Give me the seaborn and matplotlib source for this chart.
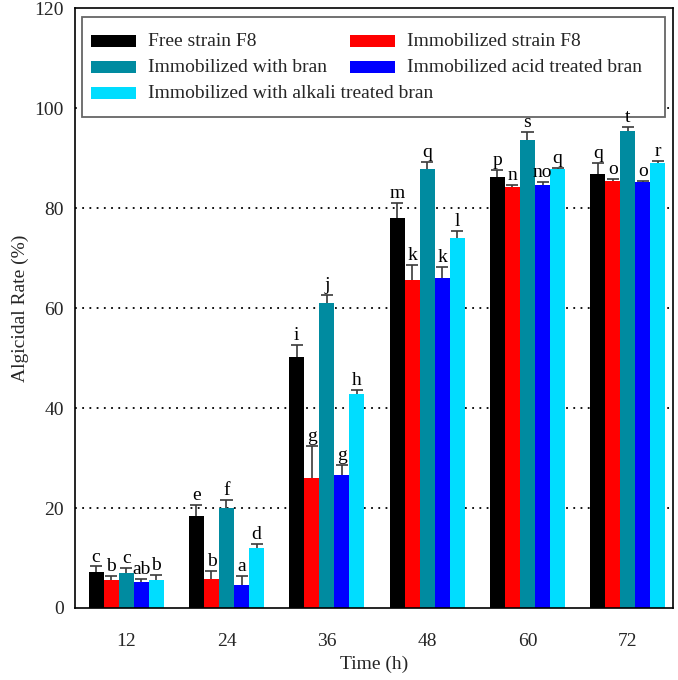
import numpy as np
import pandas as pd
import matplotlib
matplotlib.use("Agg")
import matplotlib.pyplot as plt
import seaborn as sns
from matplotlib.patches import Rectangle

times = ["12", "24", "36", "48", "60", "72"]
series = ["Free strain F8", "Immobilized strain F8", "Immobilized with bran",
          "Immobilized acid treated bran", "Immobilized with alkali treated bran"]
colors = ["#000000", "#FF0000", "#008BA0", "#0000FF", "#00DDFF"]

free_f8 = [7.1, 18.4, 50.3, 78.1, 86.2, 86.9]
immob_f8 = [5.6, 5.7, 26.1, 65.6, 84.2, 85.5]
bran = [6.9, 20.1, 61.1, 87.8, 93.6, 95.4]
acid_bran = [5.1, 4.6, 26.7, 66.1, 84.7, 85.3]
alkali_bran = [5.6, 12.1, 42.8, 74.1, 87.8, 89.0]

free_f8_err = [1.2, 2.2, 2.3, 3.0, 1.5, 2.2]
immob_f8_err = [0.7, 1.6, 6.3, 3.1, 0.5, 0.3]
bran_err = [1.1, 1.5, 1.6, 1.4, 1.6, 0.9]
acid_bran_err = [0.6, 1.7, 2.0, 2.2, 0.5, 0.2]
alkali_bran_err = [1.0, 0.7, 0.8, 1.3, 0.2, 0.5]

free_f8_lbl = ["c", "e", "i", "m", "p", "q"]
immob_f8_lbl = ["b", "b", "g", "k", "n", "o"]
bran_lbl = ["c", "f", "j", "q", "s", "t"]
acid_bran_lbl = ["ab", "a", "g", "k", "no", "o"]
alkali_bran_lbl = ["b", "d", "h", "l", "q", "r"]

values = [free_f8, immob_f8, bran, acid_bran, alkali_bran]
errors = [free_f8_err, immob_f8_err, bran_err, acid_bran_err, alkali_bran_err]
labels = [free_f8_lbl, immob_f8_lbl, bran_lbl, acid_bran_lbl, alkali_bran_lbl]

rows = []
for s, vals in zip(series, values):
    for t, v in zip(times, vals):
        rows.append({"Time": t, "Series": s, "Rate": v})
df = pd.DataFrame(rows)

sns.set_style("ticks")
plt.rcParams["font.family"] = ["Liberation Serif", "DejaVu Serif"]

W, H = 678, 680
fig = plt.figure(figsize=(W / 100, H / 100), dpi=100)
ax = fig.add_axes([0.1106, 0.1059, 0.8820, 0.8821])

for yv in [20, 40, 60, 80, 100]:
    ax.axhline(yv, color="black", linestyle=(0, (1, 3)), linewidth=1.3, zorder=0)

sns.barplot(data=df, x="Time", y="Rate", hue="Series", hue_order=series,
            order=times, palette=colors, saturation=1, errorbar=None,
            width=0.75, ax=ax, legend=False, zorder=2, linewidth=0,
            edgecolor="none")

for cont, errs, lbls in zip(ax.containers, errors, labels):
    for bar, e, lb in zip(cont, errs, lbls):
        xc = bar.get_x() + bar.get_width() / 2
        w = bar.get_width()
        h = bar.get_height()
        ax.vlines(xc, h, h + e, color="#3a3a3a", linewidth=1.2, zorder=3)
        ax.hlines(h + e, xc - 0.4 * w, xc + 0.4 * w, color="#3a3a3a",
                  linewidth=1.2, zorder=3)
        ax.text(xc, h + e + 0.2, lb, ha="center", va="bottom", fontsize=14,
                color="black", zorder=20)

ax.set_ylim(0, 120)
ax.set_xlim(-0.51, 5.45)
ax.set_yticks([0, 20, 40, 60, 80, 100, 120])
ax.tick_params(axis="both", labelsize=14, length=0, pad=8)
ax.tick_params(axis="x", pad=18)
ax.set_xlabel("Time (h)", fontsize=14, labelpad=4)
ax.set_ylabel("Algicidal Rate (%)", fontsize=14, labelpad=4)
for sp in ax.spines.values():
    sp.set_visible(True)
    sp.set_color("black")
    sp.set_linewidth(1.2)

# Legend drawn manually in figure pixel coordinates (inside the axes)
def fx(px):
    return px / W

def fy(py):
    return (H - py) / H

frame = Rectangle((fx(82), fy(117)), fx(665) - fx(82), fy(17) - fy(117),
                  transform=fig.transFigure, facecolor="white",
                  edgecolor="#666666", linewidth=1.3, zorder=10)
ax.add_patch(frame)

leg_items = [
    (0, 91, 41), (2, 91, 67), (4, 91, 93),
    (1, 350, 41), (3, 350, 67),
]
for idx, x0, yc in leg_items:
    r = Rectangle((fx(x0), fy(yc + 5.5)), fx(45), 11 / H,
                  transform=fig.transFigure, facecolor=colors[idx],
                  edgecolor="none", zorder=11)
    ax.add_patch(r)
    ax.text(fx(x0 + 57), fy(yc), series[idx], fontsize=14, ha="left",
            va="center", zorder=12, transform=fig.transFigure)

fig.savefig("out.png", dpi=100)
